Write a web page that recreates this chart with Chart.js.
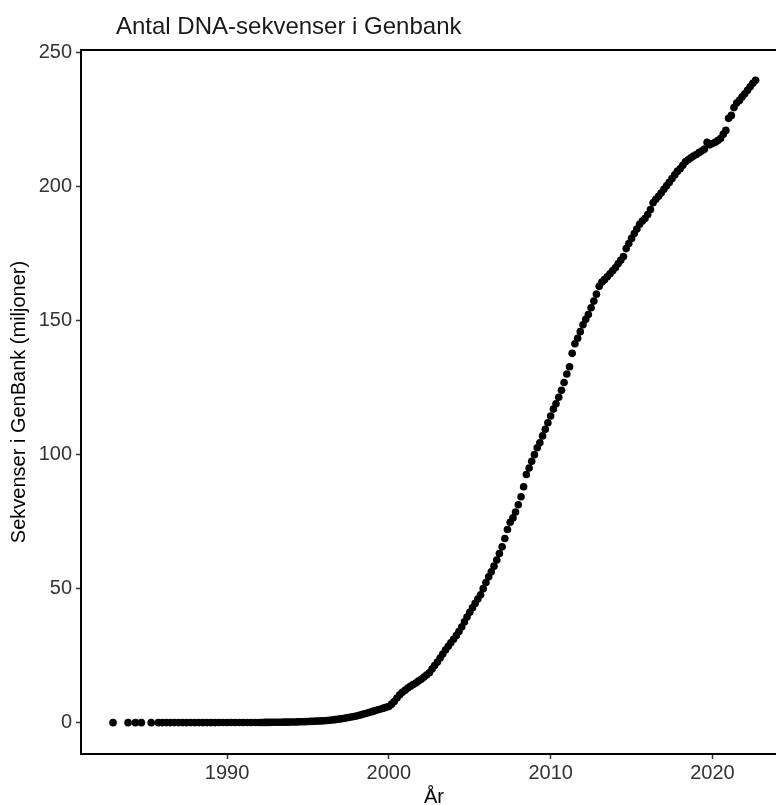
<!DOCTYPE html>
<html lang="sv">
<head>
    <meta charset="UTF-8">
    <title>Antal DNA-sekvenser i Genbank</title>
    <script src="https://cdn.jsdelivr.net/npm/chart.js"></script>
    <style>
        html, body {
            margin: 0;
            padding: 0;
            overflow: hidden;
            background: #fff;
        }
        .chart-wrap {
            width: 800px;
            height: 805px;
            position: relative;
        }
    </style>
</head>
<body>
    <div class="chart-wrap"><canvas id="genbankChart"></canvas></div>
    <script>
        // release dates (decimal year) and number of sequences (millions)
        const releaseYears = [
            1982.95, 1983.88, 1984.33, 1984.70, 1985.31, 1985.75,
            1986.0, 1986.25, 1986.5, 1986.75,
            1987.0, 1987.25, 1987.5, 1987.75,
            1988.0, 1988.25, 1988.5, 1988.75,
            1989.0, 1989.25, 1989.5, 1989.75,
            1990.0, 1990.25, 1990.5, 1990.75,
            1991.0, 1991.25, 1991.5, 1991.75,
            1992.0, 1992.17, 1992.33, 1992.5, 1992.67, 1992.83,
            1993.0, 1993.17, 1993.33, 1993.5, 1993.67, 1993.83,
            1994.0, 1994.17, 1994.33, 1994.5, 1994.67, 1994.83,
            1995.0, 1995.17, 1995.33, 1995.5, 1995.67, 1995.83,
            1996.0, 1996.17, 1996.33, 1996.5, 1996.67, 1996.83,
            1997.0, 1997.17, 1997.33, 1997.5, 1997.67, 1997.83,
            1998.0, 1998.17, 1998.33, 1998.5, 1998.67, 1998.83,
            1999.0, 1999.17, 1999.33, 1999.5, 1999.67, 1999.83,
            2000.0, 2000.17, 2000.33, 2000.5, 2000.67, 2000.83,
            2001.0, 2001.17, 2001.33, 2001.5, 2001.67, 2001.83,
            2002.0, 2002.17, 2002.33, 2002.5, 2002.67, 2002.83,
            2003.0, 2003.17, 2003.33, 2003.5, 2003.67, 2003.83,
            2004.0, 2004.17, 2004.33, 2004.5, 2004.67, 2004.83,
            2005.0, 2005.17, 2005.33, 2005.5, 2005.67, 2005.83,
            2006.0, 2006.17, 2006.33, 2006.5, 2006.67, 2006.83,
            2007.0, 2007.17, 2007.33, 2007.5, 2007.67, 2007.83,
            2008.0, 2008.17, 2008.33, 2008.5, 2008.67, 2008.83,
            2009.0, 2009.17, 2009.33, 2009.5, 2009.67, 2009.83,
            2010.0, 2010.17, 2010.33, 2010.5, 2010.67, 2010.83,
            2011.0, 2011.17, 2011.33, 2011.5, 2011.67, 2011.83,
            2012.0, 2012.17, 2012.33, 2012.5, 2012.67, 2012.83,
            2013.0, 2013.17, 2013.33, 2013.5, 2013.67, 2013.83,
            2014.0, 2014.17, 2014.33, 2014.5, 2014.67, 2014.83,
            2015.0, 2015.17, 2015.33, 2015.5, 2015.67, 2015.83,
            2016.0, 2016.17, 2016.33, 2016.5, 2016.67, 2016.83,
            2017.0, 2017.17, 2017.33, 2017.5, 2017.67, 2017.83,
            2018.0, 2018.17, 2018.33, 2018.5, 2018.67, 2018.83,
            2019.0, 2019.17, 2019.33, 2019.5, 2019.67, 2019.83,
            2020.0, 2020.17, 2020.33, 2020.5, 2020.67, 2020.83,
            2021.0, 2021.17, 2021.33, 2021.5, 2021.67, 2021.83,
            2022.0, 2022.17, 2022.33, 2022.5, 2022.67
        ];
        const sequencesMillions = [
            0.0006, 0.002, 0.003, 0.004, 0.005, 0.007,
            0.008, 0.009, 0.010, 0.011,
            0.012, 0.013, 0.014, 0.015,
            0.017, 0.018, 0.020, 0.021,
            0.023, 0.025, 0.027, 0.029,
            0.031, 0.034, 0.037, 0.040,
            0.044, 0.049, 0.055, 0.062,
            0.07, 0.08, 0.09, 0.10, 0.11, 0.12,
            0.13, 0.15, 0.16, 0.18, 0.19, 0.21,
            0.23, 0.25, 0.28, 0.31, 0.34, 0.38,
            0.42, 0.46, 0.50, 0.55, 0.60, 0.66,
            0.72, 0.80, 0.90, 1.00, 1.12, 1.25,
            1.40, 1.55, 1.70, 1.90, 2.10, 2.30,
            2.50, 2.75, 3.00, 3.30, 3.60, 3.90,
            4.20, 4.50, 4.80, 5.10, 5.40, 5.70,
            6.0, 6.9, 7.9, 9.2, 10.4, 11.3,
            12.1, 12.9, 13.6, 14.2, 14.8, 15.5,
            16.2, 17.0, 17.8, 18.6, 20.0, 21.3,
            22.6, 24.1, 25.6, 27.1, 28.5, 29.8,
            31.1, 32.5, 34.0, 35.7, 37.6, 39.4,
            41.2, 42.9, 44.5, 46.1, 47.7, 50.0,
            52.3, 54.4, 56.3, 58.4, 60.7, 63.1,
            65.6, 68.7, 72.1, 74.8, 76.4, 78.6,
            81.3, 84.3, 88.0, 92.6, 95.0, 97.5,
            100.0, 102.6, 104.4, 107.0, 109.5, 111.9,
            114.4, 117.0, 119.0, 121.4, 124.0, 126.9,
            130.1, 132.8, 137.8, 141.4, 143.4, 145.9,
            148.5, 150.5, 152.3, 154.8, 157.3, 159.9,
            162.8, 164.4, 165.3, 166.4, 167.5, 168.6,
            169.7, 171.2, 172.5, 173.9, 176.9, 178.8,
            180.7, 182.5, 184.2, 186.0, 187.2, 188.1,
            189.6, 191.5, 194.0, 195.3, 196.4, 197.6,
            199.0, 200.3, 201.6, 203.0, 204.4, 205.7,
            206.7, 208.0, 209.3, 210.0, 210.8, 211.4,
            212.0, 212.7, 213.3, 214.0, 216.6, 215.6,
            216.1, 216.6, 217.2, 218.0, 219.6, 221.0,
            225.5, 226.6, 229.5, 231.2, 232.2, 233.5,
            234.7, 236.0, 237.3, 238.6, 239.7
        ];
        const xTicks = [1990, 2000, 2010, 2020];
        const yTicks = [0, 50, 100, 150, 200, 250];

        const chartTitle = 'Antal DNA-sekvenser i Genbank';
        const xTitle = 'År';
        const yTitle = 'Sekvenser i GenBank (miljoner)';

        Chart.defaults.font.family = '"Liberation Sans", Arial, sans-serif';

        // title sits left of centre, and the panel has a top rule too
        const frameAndTitle = {
            id: 'frameAndTitle',
            afterDraw(chart) {
                const { ctx, chartArea } = chart;
                ctx.save();
                ctx.strokeStyle = '#000';
                ctx.lineWidth = 2;
                ctx.beginPath();
                ctx.moveTo(chartArea.left - 1, chartArea.top);
                ctx.lineTo(chartArea.right, chartArea.top);
                ctx.stroke();
                ctx.fillStyle = '#1a1a1a';
                ctx.font = '24px "Liberation Sans", Arial, sans-serif';
                ctx.textBaseline = 'middle';
                ctx.fillText(chartTitle, 116, 27);
                ctx.restore();
            }
        };

        const points = releaseYears.map((yr, i) => ({ x: yr, y: sequencesMillions[i] }));

        new Chart(document.getElementById('genbankChart'), {
            type: 'scatter',
            data: {
                datasets: [{
                    data: points,
                    backgroundColor: '#000',
                    borderWidth: 0,
                    pointRadius: 3.8,
                    pointHoverRadius: 3.8
                }]
            },
            options: {
                responsive: true,
                maintainAspectRatio: false,
                animation: false,
                layout: { padding: { top: 50, right: 13, left: 0, bottom: 0 } },
                plugins: {
                    legend: { display: false },
                    tooltip: { enabled: false }
                },
                scales: {
                    x: {
                        type: 'linear',
                        min: 1980.97,
                        max: 2024.61,
                        afterFit: s => { s.height = 51; },
                        afterBuildTicks: s => { s.ticks = xTicks.map(v => ({ value: v })); },
                        ticks: {
                            color: '#333',
                            font: { size: 20 },
                            padding: 2,
                            callback: v => String(v)
                        },
                        grid: { drawOnChartArea: false, tickLength: 5, tickColor: '#333', tickWidth: 1.5 },
                        border: { color: '#000', width: 2 },
                        title: {
                            display: true,
                            text: xTitle,
                            color: '#000',
                            font: { size: 20 },
                            padding: { top: 0, bottom: -4 }
                        }
                    },
                    y: {
                        min: -11.7,
                        max: 251,
                        afterFit: s => { s.width = 81; },
                        afterBuildTicks: s => { s.ticks = yTicks.map(v => ({ value: v })); },
                        ticks: {
                            color: '#333',
                            font: { size: 20 },
                            padding: 4
                        },
                        grid: { drawOnChartArea: false, tickLength: 5, tickColor: '#333', tickWidth: 1.5 },
                        border: { color: '#000', width: 2 },
                        title: {
                            display: true,
                            text: yTitle,
                            color: '#000',
                            font: { size: 20 },
                            padding: { top: 7, bottom: 0 }
                        }
                    }
                }
            },
            plugins: [frameAndTitle]
        });
    </script>
</body>
</html>
